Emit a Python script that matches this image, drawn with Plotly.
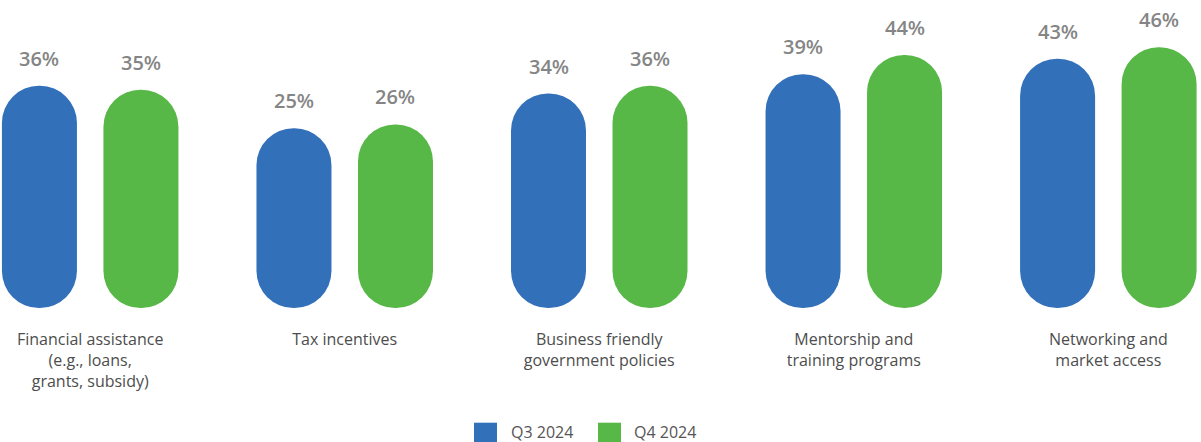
import plotly.graph_objects as go

# ---- data -------------------------------------------------------------
categories = [
    "Financial assistance<br>(e.g., loans,<br>grants, subsidy)",
    "Tax incentives",
    "Business friendly<br>government policies",
    "Mentorship and<br>training programs",
    "Networking and<br>market access",
]
series_names = ["Q3 2024", "Q4 2024"]
q3_2024 = [36, 25, 34, 39, 43]
q4_2024 = [35, 26, 36, 44, 46]

# ---- layout constants -------------------------------------------------
FIG_W, FIG_H = 1201, 442
PLOT_H = 308                 # pixel height of the bar area
PX_PER_UNIT = 3.861          # vertical scale (pixels per percentage point)
FOOT_PX = 83.2               # pill extends this far below the zero line
STEP_PX = 254.54             # distance between category centres
FIRST_PX = 90.18             # centre of the first category
BAR_PX = 75                  # bar width
PAIR_PX = 50.75              # half distance between the two bars of a pair

colors = ["#3270b9", "#57b848"]
label_gray = "#858585"
text_dark = "#4d4d4d"
FONT = "Open Sans"

y_bottom = -FOOT_PX / PX_PER_UNIT
y_top = y_bottom + PLOT_H / PX_PER_UNIT
x_left = -FIRST_PX / STEP_PX
x_right = (FIG_W - FIRST_PX) / STEP_PX
bar_w = BAR_PX / STEP_PX
pair_off = PAIR_PX / STEP_PX

idx = list(range(len(categories)))

fig = go.Figure()
annotations = []
for i, (name, vals) in enumerate(zip(series_names, [q3_2024, q4_2024])):
    sign = -1 if i == 0 else 1
    xs = [k + sign * pair_off for k in idx]
    # pill-shaped bar: starts at the common foot and reaches up to the value
    fig.add_trace(go.Bar(
        x=xs, y=[v - y_bottom for v in vals], base=y_bottom,
        name=name, width=bar_w,
        marker=dict(color=colors[i], cornerradius="50%", line=dict(width=0)),
        showlegend=False, hoverinfo="skip",
    ))
    for x, v in zip(xs, vals):
        annotations.append(dict(
            x=x, y=v, xref="x", yref="y", text=f"{v}%", showarrow=False,
            yshift=12, yanchor="bottom", xanchor="center",
            font=dict(family=FONT, size=20, color=label_gray, weight=600),
        ))

# legend drawn as swatches + text along the bottom edge
legend_items = [(474, 509), (598, 632)]
shapes = []
for (sx, tx), name, col in zip(legend_items, series_names, colors):
    shapes.append(dict(
        type="rect", xref="paper", yref="paper",
        x0=sx / FIG_W, x1=(sx + 23) / FIG_W,
        y0=1 - 446 / FIG_H, y1=1 - 422.7 / FIG_H,
        fillcolor=col, line=dict(width=0),
    ))
    annotations.append(dict(
        x=tx / FIG_W, y=1 - 432 / FIG_H, xref="paper", yref="paper",
        text=name, showarrow=False, xanchor="left", yanchor="middle",
        font=dict(family=FONT, size=16, color="#555555"),
    ))

fig.update_layout(
    width=FIG_W, height=FIG_H,
    margin=dict(l=0, r=0, t=0, b=0),
    paper_bgcolor="white", plot_bgcolor="white",
    barmode="overlay",
    showlegend=False,
    annotations=annotations,
    shapes=shapes,
    xaxis=dict(
        range=[x_left, x_right],
        tickmode="array", tickvals=idx, ticktext=categories,
        showgrid=False, zeroline=False, showline=False, ticks="",
        tickfont=dict(family=FONT, size=16, color=text_dark),
        ticklabelstandoff=20,
    ),
    yaxis=dict(
        visible=False, range=[y_bottom, y_top],
        domain=[1 - PLOT_H / FIG_H, 1],
    ),
)

fig.write_html("out.html")
